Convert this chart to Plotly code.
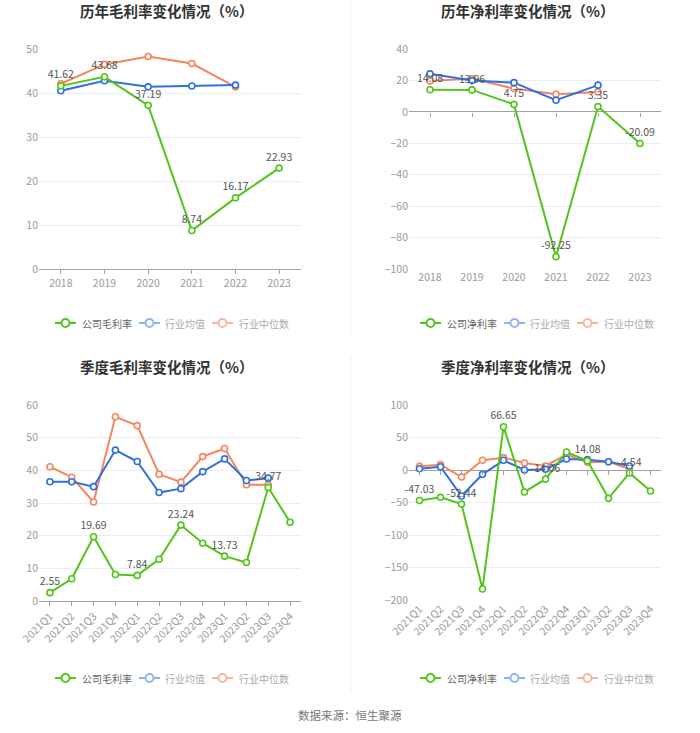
import plotly.graph_objects as go

# ---------------- data ----------------
years = ["2018", "2019", "2020", "2021", "2022", "2023"]
years_ind = ["2018", "2019", "2020", "2021", "2022"]
gm_company = [41.62, 43.68, 37.19, 8.74, 16.17, 22.93]
gm_mean = [40.5, 42.8, 41.4, 41.6, 41.8]
gm_median = [42.1, 46.5, 48.3, 46.7, 41.4]

nm_company = [14.08, 13.96, 4.75, -92.25, 3.35, -20.09]
nm_mean = [24.2, 19.9, 18.6, 7.4, 17.0]
nm_median = [19.7, 21.2, 14.8, 11.2, 12.7]

quarters = ["2021Q1", "2021Q2", "2021Q3", "2021Q4", "2022Q1", "2022Q2",
            "2022Q3", "2022Q4", "2023Q1", "2023Q2", "2023Q3", "2023Q4"]
quarters_ind = quarters[:11]
qgm_company = [2.55, 6.8, 19.69, 8.1, 7.84, 12.8, 23.24, 17.7, 13.73, 11.8, 34.77, 24.1]
qgm_mean = [36.5, 36.5, 35.0, 46.2, 42.7, 33.2, 34.4, 39.6, 43.5, 36.9, 37.6]
qgm_median = [41.1, 37.9, 30.3, 56.4, 53.7, 38.8, 36.4, 44.2, 46.7, 35.6, 35.6]

qnm_company = [-47.03, -42.1, -52.44, -183.0, 66.65, -33.8, -14.06, 27.7, 14.08, -43.6, -4.54, -32.3]
qnm_mean = [2.0, 5.1, -40.0, -6.7, 14.9, 0.0, 1.0, 16.9, 15.9, 12.8, 6.2]
qnm_median = [5.6, 8.2, -10.8, 14.9, 19.0, 10.8, 6.2, 23.6, 11.8, 12.8, 1.0]

titles = ["历年毛利率变化情况（%）", "历年净利率变化情况（%）",
          "季度毛利率变化情况（%）", "季度净利率变化情况（%）"]
company_names = ["公司毛利率", "公司净利率", "公司毛利率", "公司净利率"]
mean_name = "行业均值"
median_name = "行业中位数"
source_text = "数据来源：恒生聚源"

# ---------------- style ----------------
W, H = 700, 733
GREEN = "#52c41a"
BLUE = "#2f6fe4"
ORANGE = "#f7845c"
BLUE_L = "#93b4f2"
ORANGE_L = "#f8b69e"
GRID = "#e9edf5"
AXIS = "#a0a0a8"
TICK = "#9a9a9a"
FONT = "Noto Sans CJK SC, Noto Sans, sans-serif"


def px_x(p):
    return p / W


def px_y(p):
    return 1 - p / H


panels = [
    dict(x=(39, 301), y=(49, 269), cats=years, cats_ind=years_ind,
         comp=gm_company, mean=gm_mean, med=gm_median, rng=[0, 50], dtick=10,
         every=1, rot=0, title_x=166, title_y=11, leg_dx=0, leg_y=323),
    dict(x=(409, 661), y=(49, 269), cats=years, cats_ind=years_ind,
         comp=nm_company, mean=nm_mean, med=nm_median, rng=[-100, 40], dtick=20,
         every=1, rot=0, title_x=527, title_y=11, leg_dx=365, leg_y=323),
    dict(x=(39, 301), y=(405, 601), cats=quarters, cats_ind=quarters_ind,
         comp=qgm_company, mean=qgm_mean, med=qgm_median, rng=[0, 60], dtick=10,
         every=2, rot=-45, title_x=166, title_y=366, leg_dx=0, leg_y=678),
    dict(x=(409, 661), y=(405, 600), cats=quarters, cats_ind=quarters_ind,
         comp=qnm_company, mean=qnm_mean, med=qnm_median, rng=[-200, 100], dtick=50,
         every=2, rot=-45, title_x=527, title_y=366, leg_dx=365, leg_y=678),
]

# legend item layout (pixel offsets for the left column)
legend_items = [  # (icon_x0, icon_x1, text_x)
    (55, 76, 80),
    (139, 160, 163),
    (212, 233, 237),
]

fig = go.Figure()
annotations = []
shapes = []
layout = {}


def marker(c):
    return dict(symbol="circle", size=6, color="white", line=dict(color=c, width=1.6))


for i, p in enumerate(panels):
    k = i + 1
    xa = "x" if k == 1 else f"x{k}"
    ya = "y" if k == 1 else f"y{k}"
    xkey = "xaxis" if k == 1 else f"xaxis{k}"
    ykey = "yaxis" if k == 1 else f"yaxis{k}"
    n = len(p["cats"])
    xd = [px_x(p["x"][0]), px_x(p["x"][1])]
    yd = [px_y(p["y"][1]), px_y(p["y"][0])]
    has_neg = p["rng"][0] < 0

    labels = [f"{v:.2f}" if j % p["every"] == 0 else "" for j, v in enumerate(p["comp"])]

    fig.add_trace(go.Scatter(x=p["cats_ind"], y=p["med"], name=median_name,
                             mode="lines+markers", line=dict(color=ORANGE, width=2),
                             marker=marker(ORANGE), xaxis=xa, yaxis=ya,
                             showlegend=False, cliponaxis=False))
    fig.add_trace(go.Scatter(x=p["cats_ind"], y=p["mean"], name=mean_name,
                             mode="lines+markers", line=dict(color=BLUE, width=2),
                             marker=marker(BLUE), xaxis=xa, yaxis=ya,
                             showlegend=False, cliponaxis=False))
    fig.add_trace(go.Scatter(x=p["cats"], y=p["comp"], text=labels,
                             name=company_names[i],
                             mode="lines+markers+text", textposition="top center",
                             textfont=dict(color="#555555", size=10.5, family=FONT),
                             line=dict(color=GREEN, width=2),
                             marker=marker(GREEN), xaxis=xa, yaxis=ya,
                             showlegend=False, cliponaxis=False))

    layout[xkey] = dict(domain=xd, anchor=ya, type="category", automargin=False,
                        range=[-0.5, n - 0.5], showgrid=False, zeroline=False,
                        showline=not has_neg, linecolor=AXIS, linewidth=1,
                        ticks="" if has_neg else "outside", ticklen=4,
                        tickcolor=AXIS, tickangle=p["rot"],
                        tickfont=dict(color=TICK, size=10.5, family=FONT),
                        fixedrange=True)
    layout[ykey] = dict(domain=yd, anchor=xa, range=p["rng"], dtick=p["dtick"],
                        automargin=False,
                        showgrid=True, gridcolor=GRID, gridwidth=1,
                        zeroline=has_neg, zerolinecolor=AXIS, zerolinewidth=1,
                        showline=False, ticks="",
                        tickfont=dict(color=TICK, size=10.5, family=FONT),
                        fixedrange=True)
    if has_neg:
        ok = k + 4
        oxa = f"x{ok}"
        frac0 = (0 - p["rng"][0]) / (p["rng"][1] - p["rng"][0])
        pos = yd[0] + frac0 * (yd[1] - yd[0])
        layout[f"xaxis{ok}"] = dict(domain=xd, anchor="free", position=pos,
                                    overlaying=xa, type="category", automargin=False,
                                    range=[-0.5, n - 0.5], showgrid=False,
                                    zeroline=False, showline=False,
                                    ticks="outside", ticklen=4, tickcolor=AXIS,
                                    showticklabels=False, fixedrange=True)
        fig.add_trace(go.Scatter(x=p["cats"], y=[None] * n, mode="lines",
                                 xaxis=oxa, yaxis=ya, showlegend=False,
                                 hoverinfo="skip"))

    # manual legend (shapes + text)
    names = [company_names[i], mean_name, median_name]
    icols = [GREEN, BLUE_L, ORANGE_L]
    tcols = ["#666666", "#aaaaaa", "#aaaaaa"]
    ly = px_y(p["leg_y"])
    for (ix0, ix1, tx), nm, ic, tc in zip(legend_items, names, icols, tcols):
        x0 = ix0 + p["leg_dx"]
        x1 = ix1 + p["leg_dx"]
        cx = (x0 + x1) / 2
        shapes.append(dict(type="line", xref="paper", yref="paper",
                           x0=px_x(x0), x1=px_x(x1), y0=ly, y1=ly,
                           line=dict(color=ic, width=2)))
        shapes.append(dict(type="circle", xref="paper", yref="paper",
                           x0=px_x(cx - 4), x1=px_x(cx + 4),
                           y0=px_y(p["leg_y"] + 4), y1=px_y(p["leg_y"] - 4),
                           fillcolor="white", line=dict(color=ic, width=2)))
        annotations.append(dict(text=nm, x=px_x(tx + p["leg_dx"]), y=ly,
                                xref="paper", yref="paper", xanchor="left",
                                yanchor="middle", showarrow=False,
                                font=dict(size=10, color=tc, family=FONT)))

    annotations.append(dict(text=f"<b>{titles[i]}</b>", x=px_x(p["title_x"]),
                            y=px_y(p["title_y"]), xref="paper", yref="paper",
                            xanchor="center", yanchor="middle", showarrow=False,
                            font=dict(size=14.5, color="#333333", family=FONT)))

annotations.append(dict(text=source_text, x=0.5, y=px_y(715), xref="paper",
                        yref="paper", xanchor="center", yanchor="middle",
                        showarrow=False,
                        font=dict(size=11.5, color="#777777", family=FONT)))

for y0, y1 in [(0, 336), (356, 692)]:
    shapes.append(dict(type="line", xref="paper", yref="paper",
                       x0=px_x(351), x1=px_x(351), y0=px_y(y1), y1=px_y(y0),
                       line=dict(color="#f0f0f0", width=1)))

fig.update_layout(width=W, height=H, margin=dict(l=0, r=0, t=0, b=0, autoexpand=False),
                  paper_bgcolor="white", plot_bgcolor="white", showlegend=False,
                  font=dict(family=FONT), annotations=annotations,
                  shapes=shapes, hovermode=False, **layout)

fig.write_html("out.html", config={"displayModeBar": False},
               post_script="document.body.style.margin='0px';document.body.style.overflow='hidden';")
